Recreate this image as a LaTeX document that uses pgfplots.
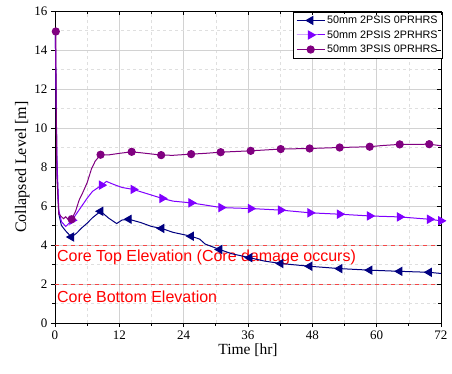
\documentclass[border=0pt]{standalone}
\usepackage{pgfplots}
\pgfplotsset{compat=1.18}
\usepackage{fontspec}
\setmainfont{Liberation Serif}
\newfontfamily\arial{Liberation Sans}
\usetikzlibrary{calc}
\definecolor{cnavy}{RGB}{0,0,128}
\definecolor{cviolet}{RGB}{128,0,255}
\definecolor{cpurple}{RGB}{128,0,128}
\definecolor{cred}{RGB}{255,0,0}
\definecolor{cdash}{RGB}{245,70,70}
\pgfplotsset{
  common/.style={
    width=386pt, height=312pt, scale only axis,
    xmin=0, xmax=72, ymin=0, ymax=16,
    xtick={0,12,...,72}, ytick={0,2,...,16},
    minor xtick={6,18,...,66}, minor ytick={1,3,...,15},
    axis line style={line width=0.9pt},
    major tick length=4pt, minor tick length=2.5pt,
    every tick/.style={black, line width=0.8pt},
  }
}
\begin{document}
\begin{tikzpicture}
\begin{axis}[common, name=ax,
  tick align=outside, xtick pos=bottom, ytick pos=left,
  grid=both,
  major grid style={gray!35, line width=0.8pt},
  minor grid style={gray!25, dashed, line width=0.5pt},
  /pgf/number format/assume math mode=true,
  ticklabel style={font=\fontsize{13}{13}\selectfont},
  xlabel={Time [hr]}, ylabel={Collapsed Level [m]},
  xlabel style={font=\fontsize{15.5}{16}\selectfont, yshift=2pt},
  ylabel style={font=\fontsize{16}{16}\selectfont, yshift=-2pt},
  legend style={at={(1.005,0.998)}, anchor=north east, draw=black, line width=0.6pt,
    font=\arial\fontsize{10.8}{12}\selectfont, inner xsep=3pt, inner ysep=2pt, row sep=1.5pt,
    cells={anchor=west}},
  legend cell align=left,
  legend image code/.code={\draw[mark repeat=2,mark phase=2] plot coordinates {(0pt,0pt) (14pt,0pt) (28pt,0pt)};},
]
% red reference lines
\addplot[cdash, line width=1pt, dash pattern=on 4pt off 4pt, forget plot] coordinates {(0,4) (72,4)};
\addplot[cdash, line width=1pt, dash pattern=on 4pt off 4pt, forget plot] coordinates {(0,2) (72,2)};
\node[anchor=west, text=cred, font=\arial\fontsize{16}{18}\selectfont, inner sep=0pt] at (axis cs:0.35,3.38) {Core Top Elevation (Core damage occurs)};
\node[anchor=west, text=cred, font=\arial\fontsize{16}{18}\selectfont, inner sep=0pt] at (axis cs:0.35,1.36) {Core Bottom Elevation};

% 50mm 2PSIS 0PRHRS (navy, left triangles)
\addplot[cnavy, line width=1pt, forget plot, mark=triangle*, mark size=4.5pt,
  every mark/.append style={rotate=90},
  mark indices={7,12,16,19,21,24,26,28,29,30,31,32,33}] coordinates {
(0,15) (0.1,14) (0.35,8) (0.7,5.6) (1.2,5.0) (2.0,4.72) (3.05,4.41) (4,4.6) (5,4.88) (6,5.12) (7,5.4) (8.5,5.73)
(10,5.38) (11.5,5.1) (12.5,5.28) (13.8,5.32) (16,5.15) (18,4.95) (19.9,4.85) (22,4.65) (25.4,4.45) (27,4.3) (28,4.05)
(30.7,3.77) (33,3.55) (36.3,3.35) (39,3.18) (42.1,3.05) (47.5,2.91) (53.1,2.79) (58.7,2.71) (64.3,2.65) (69.8,2.60) (72,2.54)
};
% 50mm 2PSIS 2PRHRS (violet, right triangles)
\addplot[cviolet, line width=1pt, forget plot, mark=triangle*, mark size=4.5pt,
  every mark/.append style={rotate=-90},
  mark indices={7,12,16,17,19,21,23,24,25,26,27,28,29,30}] coordinates {
(0,15) (0.1,14) (0.35,8.5) (0.7,5.8) (1.2,5.2) (2.0,4.95) (3.2,5.27) (4,5.6) (5,6.0) (6,6.4) (7,6.75) (8.7,7.07)
(9.6,7.26) (11,7.1) (12.5,6.95) (14.6,6.85) (20,6.39) (22,6.25) (25.4,6.16) (28,6.05) (31,5.92) (33,5.9)
(36.5,5.87) (42.1,5.79) (47.6,5.65) (53.1,5.58) (58.7,5.49) (64.3,5.44) (69.9,5.32) (72,5.24)
};
% 50mm 3PSIS 0PRHRS (purple, circles)
\addplot[cpurple, line width=1pt, forget plot, mark=*, mark size=3.6pt,
  mark indices={2,10,17,20,22,24,26,27,28,29,30,31,33,35}] coordinates {
(0,15) (0.15,14.95) (0.2,12) (0.35,7.5) (0.7,5.6) (1.2,5.45) (1.6,5.35) (2,5.45) (2.5,5.3) (3.1,5.32)
(3.8,5.7) (4.5,6.3) (5.2,6.7) (6,7.2) (6.8,7.9) (7.5,8.3) (8.5,8.63) (10,8.62) (12,8.7) (14.3,8.78)
(17,8.7) (19.8,8.61) (22,8.6) (25.4,8.66) (28,8.7) (30.9,8.76) (36.5,8.83) (42.1,8.92) (47.5,8.95)
(53.1,9.0) (58.7,9.04) (61,9.1) (64.3,9.16) (67,9.16) (69.8,9.17) (72,9.09)
};
\addlegendimage{cnavy, line width=1pt, mark=triangle*, mark size=4.5pt, every mark/.append style={rotate=90}}
\addlegendentry{50mm 2PSIS 0PRHRS}
\addlegendimage{cviolet, line width=1pt, mark=triangle*, mark size=4.5pt, every mark/.append style={rotate=-90}}
\addlegendentry{50mm 2PSIS 2PRHRS}
\addlegendimage{cpurple, line width=1pt, mark=*, mark size=3.6pt}
\addlegendentry{50mm 3PSIS 0PRHRS}
\end{axis}
\begin{axis}[common, tick align=inside, xtick pos=top, ytick pos=right,
  xticklabels={}, yticklabels={}, axis line style={draw=none}]
\end{axis}
\pgfresetboundingbox
\path ($(ax.south west)+(-55pt,-50pt)$) rectangle ($(ax.north east)+(11pt,11pt)$);
\end{tikzpicture}
\end{document}
